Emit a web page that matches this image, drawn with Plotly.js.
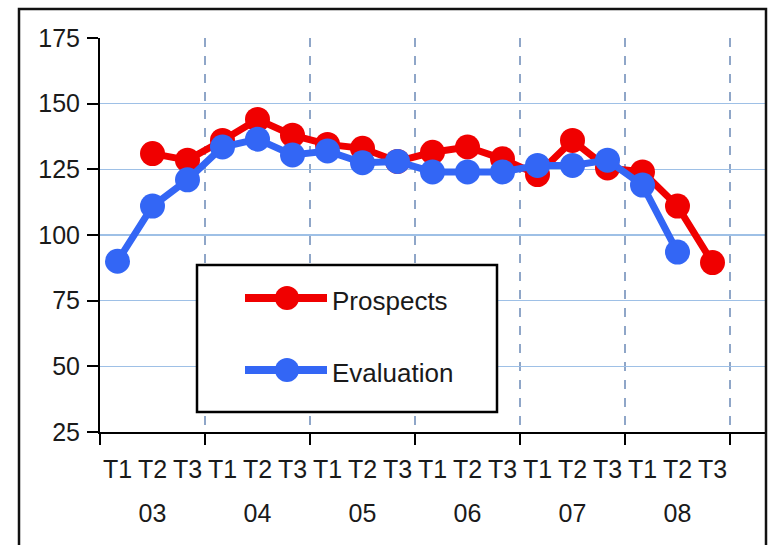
<!DOCTYPE html>
<html>
<head>
<meta charset="utf-8">
<script src="https://cdn.plot.ly/plotly-3.0.1.min.js"></script>
<style>
html,body{margin:0;padding:0;background:#fff;}
#chart{width:768px;height:545px;}
</style>
</head>
<body>
<div id="chart"></div>
<script>
// ---- data ----
var quarters = ["T1","T2","T3","T1","T2","T3","T1","T2","T3","T1","T2","T3","T1","T2","T3","T1","T2","T3"];
var years = ["03","04","05","06","07","08"];
var prospects = [null, 131, 128.5, 136, 144, 138, 134.5, 133, 128, 131.5, 133.5, 129, 123, 136, 125.5, 124, 111, 89.5];
var evaluation = [90, 111, 121, 133.5, 136.5, 130.5, 132, 127.5, 128, 124, 124, 124, 126.5, 126.5, 128.5, 119, 93.5, null];
var seriesNames = ["Prospects", "Evaluation"];
var yTicks = [25, 50, 75, 100, 125, 150, 175];

// ---- derived ----
var idx = quarters.map(function(_, i){ return i; });
var yearCenters = years.map(function(_, k){ return k*3 + 1; });
var bounds = [];
for (var b = 0; b <= years.length; b++) bounds.push(b*3 - 0.5);

var FONT = '"Liberation Sans", Arial, sans-serif';
var FS = 25;
var RED = '#f00000', BLUE = '#3366f5';

var traces = [
  {x: idx, y: prospects, name: seriesNames[0], mode: 'lines+markers', type: 'scatter',
   line: {color: RED, width: 7}, marker: {color: RED, size: 25}, cliponaxis: false},
  {x: idx, y: evaluation, name: seriesNames[1], mode: 'lines+markers', type: 'scatter',
   line: {color: BLUE, width: 7}, marker: {color: BLUE, size: 25}, cliponaxis: false},
  // empty helper trace so the year-label axis is drawn
  {x: [], y: [], xaxis: 'x2', yaxis: 'y', type: 'scatter', mode: 'markers', showlegend: false, hoverinfo: 'skip'}
];

// legend geometry (paper coords)
function px2x(p){ return (p - 100) / 665; }
function py2y(p){ return (432 - p) / 394; }
var rx = 12/665, ry = 12/394;
var legRows = [298, 370];

var shapes = [
  {type:'rect', xref:'paper', yref:'paper', x0: px2x(19), x1: px2x(766), y0: py2y(600), y1: py2y(9),
   line:{color:'#111', width:2.5}, fillcolor:'rgba(0,0,0,0)', layer:'above'},
  {type:'rect', xref:'paper', yref:'paper', x0: px2x(197), x1: px2x(497), y0: py2y(412), y1: py2y(265),
   line:{color:'#000', width:2.5}, fillcolor:'#ffffff', layer:'above'}
];
var annotations = [];
[RED, BLUE].forEach(function(c, k){
  var yy = py2y(legRows[k]);
  shapes.push({type:'line', xref:'paper', yref:'paper', x0: px2x(245), x1: px2x(327), y0: yy, y1: yy,
    line:{color:c, width:8}, layer:'above'});
  shapes.push({type:'circle', xref:'paper', yref:'paper', x0: px2x(287)-rx, x1: px2x(287)+rx, y0: yy-ry, y1: yy+ry,
    line:{color:c, width:0}, fillcolor:c, layer:'above'});
  annotations.push({xref:'paper', yref:'paper', x: px2x(330), y: py2y(legRows[k]+3), xanchor:'left', yanchor:'middle',
    text: seriesNames[k], showarrow:false, font:{family:FONT, size:FS+1, color:'#1a1a1a'}});
});

var layout = {
  width: 768, height: 545,
  margin: {l:100, r:3, t:38, b:113, pad:0},
  paper_bgcolor:'#ffffff', plot_bgcolor:'#ffffff',
  showlegend: false,
  font: {family: FONT, size: FS, color:'#1a1a1a'},
  xaxis: {
    range: [-0.5, 18.5], tickmode:'array', tickvals: idx, ticktext: quarters, tickangle: 0,
    ticks:'', showgrid:false, zeroline:false, showline:true, linecolor:'#000', linewidth:2,
    ticklabelstandoff: 14,
    tickfont:{family:FONT, size:FS, color:'#1a1a1a'}, fixedrange:true,
    minor: {tickmode:'array', tickvals: bounds, ticks:'outside', ticklen:11, tickwidth:2, tickcolor:'#000',
            showgrid:true, gridcolor:'#8fa6c8', griddash:'dash', gridwidth:1.2}
  },
  xaxis2: {
    overlaying:'x', anchor:'y', side:'bottom',
    range: [-0.5, 18.5], tickmode:'array', tickvals: yearCenters, ticktext: years, tickangle: 0,
    ticks:'', showgrid:false, zeroline:false, showline:false,
    ticklabelstandoff: 64,
    tickfont:{family:FONT, size:FS, color:'#1a1a1a'}, fixedrange:true
  },
  yaxis: {
    range: [25, 175], tickmode:'array', tickvals: yTicks, ticks:'outside', ticklen:11, tickwidth:2, tickcolor:'#000',
    showline:true, linecolor:'#000', linewidth:2, zeroline:false,
    showgrid:true, gridcolor:'#9ec0e6', gridwidth:1.5,
    ticklabelstandoff: 2,
    tickfont:{family:FONT, size:FS, color:'#1a1a1a'}, fixedrange:true
  },
  shapes: shapes,
  annotations: annotations
};

Plotly.newPlot('chart', traces, layout, {displayModeBar:false, staticPlot:true});
</script>
</body>
</html>
